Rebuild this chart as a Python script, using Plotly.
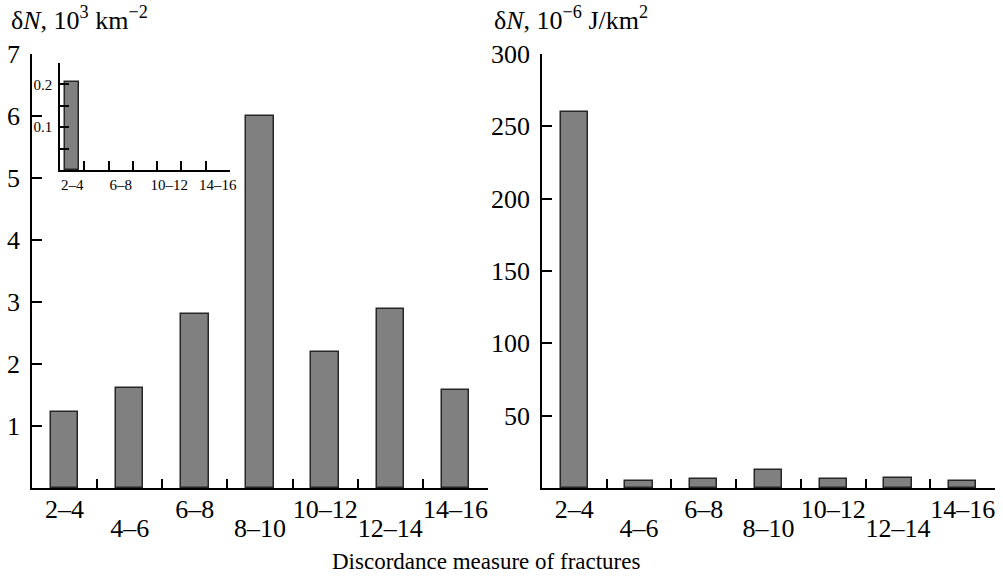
import plotly.graph_objects as go

categories = ["2–4", "4–6", "6–8", "8–10", "10–12", "12–14", "14–16"]
density_values = [1.23, 1.61, 2.80, 6.00, 2.20, 2.88, 1.58]
energy_values = [260, 4.5, 6.5, 12.5, 6.5, 7.0, 4.5]
inset_values = [0.205, None, None, None, None, None, None]
left_yticks = [1, 2, 3, 4, 5, 6, 7]
right_yticks = [50, 100, 150, 200, 250, 300]
inset_yticks = [0.05, 0.1, 0.15, 0.2, 0.25]
inset_ytext = ["", "0.1", "", "0.2", ""]

W, H = 1003, 579
FONT = "Liberation Serif"
BAR_FILL = "#808080"
BAR_LINE = "#262626"

even_text = [c if i % 2 == 0 else " " for i, c in enumerate(categories)]
odd_text = [c if i % 2 == 1 else " " for i, c in enumerate(categories)]

def px_x(p):
    return p / W

def px_y(p):
    return 1 - p / H

fig = go.Figure()

fig.add_trace(go.Bar(x=categories, y=density_values, xaxis="x", yaxis="y",
                     width=0.42, marker=dict(color=BAR_FILL, line=dict(color=BAR_LINE, width=1.5)),
                     showlegend=False))
fig.add_trace(go.Bar(x=categories, y=energy_values, xaxis="x2", yaxis="y2",
                     width=0.42, marker=dict(color=BAR_FILL, line=dict(color=BAR_LINE, width=1.5)),
                     showlegend=False))
fig.add_trace(go.Bar(x=categories, y=inset_values, xaxis="x3", yaxis="y3",
                     width=0.55, marker=dict(color=BAR_FILL, line=dict(color=BAR_LINE, width=1.5)),
                     showlegend=False))
# invisible carriers for the second-row label axes
fig.add_trace(go.Scatter(x=categories, y=[None] * len(categories), xaxis="x4", yaxis="y",
                         showlegend=False, hoverinfo="skip"))
fig.add_trace(go.Scatter(x=categories, y=[None] * len(categories), xaxis="x5", yaxis="y2",
                         showlegend=False, hoverinfo="skip"))

ydom = [px_y(488), px_y(54)]
left_dom = [px_x(32), px_x(488)]
right_dom = [px_x(542), px_x(995)]
tickfont = dict(family=FONT, size=26, color="black")
smallfont = dict(family=FONT, size=15, color="black")

base_x = dict(type="category", categoryorder="array", categoryarray=categories,
              range=[-0.5, 6.5], showgrid=False, zeroline=False, tickangle=0,
              automargin=False, tickfont=tickfont, fixedrange=True)
base_y = dict(showgrid=False, zeroline=False, automargin=False,
              ticks="inside", ticklen=10, tickwidth=1.5, tickcolor="black",
              showline=True, linecolor="black", linewidth=1.5,
              tickmode="array", tickfont=tickfont, fixedrange=True)

fig.update_layout(
    width=W, height=H, autosize=False,
    margin=dict(l=0, r=0, t=0, b=0),
    paper_bgcolor="white", plot_bgcolor="rgba(0,0,0,0)",
    bargap=0,
    font=dict(family=FONT, color="black"),
    xaxis=dict(base_x, domain=left_dom, anchor="y", tickson="boundaries",
               ticks="inside", ticklen=9, tickwidth=1.5, tickcolor="black",
               showline=True, linecolor="black", linewidth=1.5,
               tickmode="array", tickvals=categories, ticktext=even_text,
               ticklabelstandoff=-3),
    xaxis4=dict(base_x, domain=left_dom, anchor="y", overlaying="x",
                ticks="", showline=False, tickmode="array",
                tickvals=categories, ticktext=odd_text, ticklabelstandoff=22),
    yaxis=dict(base_y, domain=ydom, range=[0, 7], anchor="x",
               tickvals=left_yticks, ticklabelstandoff=5),
    xaxis2=dict(base_x, domain=right_dom, anchor="y2", tickson="boundaries",
                ticks="inside", ticklen=9, tickwidth=1.5, tickcolor="black",
                showline=True, linecolor="black", linewidth=1.5,
                tickmode="array", tickvals=categories, ticktext=even_text,
                ticklabelstandoff=-3),
    xaxis5=dict(base_x, domain=right_dom, anchor="y2", overlaying="x2",
                ticks="", showline=False, tickmode="array",
                tickvals=categories, ticktext=odd_text, ticklabelstandoff=22),
    yaxis2=dict(base_y, domain=ydom, range=[0, 300], anchor="x2",
                tickvals=right_yticks, ticklabelstandoff=5),
    xaxis3=dict(base_x, domain=[px_x(60), px_x(230)], anchor="y3", tickson="boundaries",
                ticks="inside", ticklen=9, tickwidth=1.5, tickcolor="black",
                showline=True, linecolor="black", linewidth=1.5,
                tickmode="array", tickvals=categories, ticktext=even_text,
                tickfont=smallfont, ticklabelstandoff=0),
    yaxis3=dict(base_y, domain=[px_y(170), px_y(63)], range=[0, 0.25], anchor="x3",
                ticklen=9, tickvals=inset_yticks, ticktext=inset_ytext,
                tickfont=smallfont, ticklabelstandoff=3),
    annotations=[
        dict(text="δ<i>N</i>, 10<sup>3</sup> km<sup>−2</sup>", xref="paper", yref="paper",
             x=px_x(9), y=px_y(37), xanchor="left", yanchor="bottom", showarrow=False,
             font=dict(family=FONT, size=26, color="black")),
        dict(text="δ<i>N</i>, 10<sup>−6</sup> J/km<sup>2</sup>", xref="paper", yref="paper",
             x=px_x(492), y=px_y(37), xanchor="left", yanchor="bottom", showarrow=False,
             font=dict(family=FONT, size=26, color="black")),
        dict(text="Discordance measure of fractures", xref="paper", yref="paper",
             x=px_x(486), y=px_y(561), xanchor="center", yanchor="middle", showarrow=False,
             font=dict(family=FONT, size=23, color="black")),
    ],
)

fig.write_html("out.html", post_script="document.body.style.margin='0';",
               config={"displayModeBar": False})
